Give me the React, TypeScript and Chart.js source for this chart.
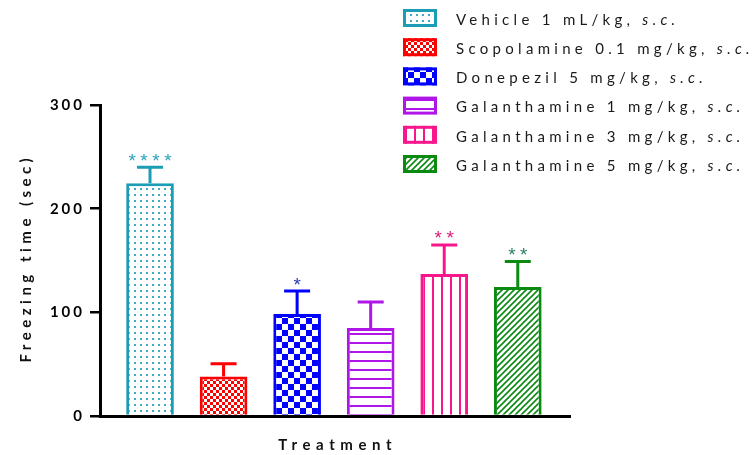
import React, { useEffect, useRef } from 'react';
import { Chart, registerables } from 'chart.js';

Chart.register(...registerables);

// ---------- data ----------
const treatments = [
  'Vehicle 1 mL/kg,',
  'Scopolamine 0.1 mg/kg,',
  'Donepezil 5 mg/kg,',
  'Galanthamine 1 mg/kg,',
  'Galanthamine 3 mg/kg,',
  'Galanthamine 5 mg/kg,',
];
const routeLabel = 's.c.';
const freezingMean = [224.5, 38, 98.5, 85, 137, 124.5];
const freezingSem = [15.5, 12.5, 22, 25, 28, 24.5];
const significance = ['****', '', '*', '', '**', '**'];
const yTickValues = [0, 100, 200, 300];
const yAxisTitle = 'Freezing time (sec)';
const xAxisTitle = 'Treatment';

// ---------- styles ----------
const barColors = ['#1b9db6', '#ff0000', '#0000ff', '#b016e8', '#f8168c', '#0b8a12'];
const starColors = ['#2aa3bb', '#000', '#2a3aa8', '#000', '#d81b7a', '#2e7d5e'];
const patternKinds = ['dots', 'fineChecker', 'checker', 'hlines', 'vlines', 'diag'];

function makePattern(kind: string, color: string): CanvasPattern | string {
  const c = document.createElement('canvas');
  const g = c.getContext('2d') as CanvasRenderingContext2D;
  const tile = (w: number, h: number) => {
    c.width = w;
    c.height = h;
    g.fillStyle = '#ffffff';
    g.fillRect(0, 0, w, h);
    g.fillStyle = color;
    g.strokeStyle = color;
  };
  switch (kind) {
    case 'dots':
      tile(6, 6);
      g.globalAlpha = 0.85;
      g.fillRect(2, 2, 2, 2);
      break;
    case 'fineChecker':
      tile(6, 6);
      g.fillRect(0, 0, 3, 3);
      g.fillRect(3, 3, 3, 3);
      break;
    case 'checker':
      tile(12, 12);
      g.fillRect(0, 0, 6, 6);
      g.fillRect(6, 6, 6, 6);
      break;
    case 'hlines':
      tile(4, 9);
      g.fillRect(0, 0, 4, 2);
      break;
    case 'vlines':
      tile(9, 4);
      g.fillRect(0, 0, 2, 4);
      break;
    case 'diag':
      tile(6, 6);
      g.lineWidth = 1.6;
      g.beginPath();
      g.moveTo(0, 6);
      g.lineTo(6, 0);
      g.moveTo(-1, 1);
      g.lineTo(1, -1);
      g.moveTo(5, 7);
      g.lineTo(7, 5);
      g.stroke();
      break;
  }
  return g.createPattern(c, 'repeat') || color;
}

const FONT = 'Lato, "Open Sans", sans-serif';
const STAR_FONT = '"Liberation Sans", Arial, sans-serif';

const decorPlugin = {
  id: 'decor',
  beforeLayout(chart: any) {
    chart.ctx.letterSpacing = '3px';
  },
  beforeDraw(chart: any) {
    chart.ctx.letterSpacing = '3px';
  },
  afterDatasetsDraw(chart: any) {
    const { ctx, scales } = chart;
    const xs = scales.x;
    const ys = scales.y;
    ctx.save();
    freezingMean.forEach((m, i) => {
      const cx = xs.getPixelForValue(i + 1);
      const yTop = ys.getPixelForValue(m);
      const yCap = ys.getPixelForValue(m + freezingSem[i]);
      ctx.strokeStyle = barColors[i];
      ctx.lineWidth = 3;
      ctx.beginPath();
      ctx.moveTo(cx, yTop);
      ctx.lineTo(cx, yCap);
      ctx.moveTo(cx - 13, yCap);
      ctx.lineTo(cx + 13, yCap);
      ctx.stroke();
      if (significance[i]) {
        ctx.font = `19px ${STAR_FONT}`;
        ctx.letterSpacing = '4.5px';
        ctx.fillStyle = starColors[i];
        ctx.textAlign = 'center';
        ctx.textBaseline = 'alphabetic';
        ctx.fillText(significance[i], cx + 2.25, yCap - 0.5);
      }
    });
    ctx.restore();
  },
  afterDraw(chart: any) {
    const { ctx, chartArea } = chart;
    ctx.save();
    ctx.fillStyle = '#111';
    // axis titles
    ctx.font = `bold 15px ${FONT}`;
    ctx.letterSpacing = '4.5px';
    ctx.textAlign = 'center';
    ctx.textBaseline = 'middle';
    ctx.save();
    ctx.translate(26, (chartArea.top + chartArea.bottom) / 2);
    ctx.rotate(-Math.PI / 2);
    ctx.fillText(yAxisTitle, 2.25, 0);
    ctx.restore();
    ctx.font = `bold 15px ${FONT}`;
    ctx.letterSpacing = '5.6px';
    ctx.fillText(xAxisTitle, (chartArea.left + chartArea.right) / 2 + 2.8, 445);

    // legend
    const patterns = chart.data.datasets[0].backgroundColor;
    const boxX = 403, boxW = 34, boxH = 18, firstY = 18, step = 29.2, textX = 456;
    treatments.forEach((t, i) => {
      const cy = firstY + i * step;
      ctx.fillStyle = patterns[i];
      ctx.fillRect(boxX, cy - boxH / 2, boxW, boxH);
      ctx.strokeStyle = barColors[i];
      ctx.lineWidth = 3;
      ctx.strokeRect(boxX + 1.5, cy - boxH / 2 + 1.5, boxW - 3, boxH - 3);
      ctx.fillStyle = '#1a1a1a';
      ctx.textAlign = 'left';
      ctx.textBaseline = 'middle';
      ctx.letterSpacing = '4.3px';
      ctx.font = `15px ${FONT}`;
      const main = t + ' ';
      ctx.fillText(main, textX, cy + 2);
      const w = ctx.measureText(main).width;
      ctx.font = `italic 15px ${FONT}`;
      ctx.fillText(routeLabel, textX + w, cy + 2);
    });
    ctx.restore();
  },
};

export default function App() {
  const ref = useRef<HTMLCanvasElement>(null);
  useEffect(() => {
    const canvas = ref.current as HTMLCanvasElement;
    const patterns = patternKinds.map((k, i) => makePattern(k, barColors[i]));
    const chart = new Chart(canvas, {
      type: 'bar',
      data: {
        labels: treatments,
        datasets: [
          {
            label: 'Freezing time (sec)',
            data: freezingMean.map((v, i) => ({ x: i + 1, y: v })) as any,
            backgroundColor: patterns as any,
            borderColor: barColors,
            borderWidth: 3,
            borderSkipped: 'bottom',
            categoryPercentage: 0.8,
            barPercentage: 0.81,
          },
        ],
      },
      options: {
        responsive: false,
        animation: false,
        devicePixelRatio: 1,
        layout: { padding: { left: 0, top: 105, right: 186, bottom: 0 } },
        plugins: {
          legend: { display: false },
          tooltip: { enabled: false },
          title: { display: false },
        },
        scales: {
          x: {
            type: 'linear',
            min: 0.32,
            max: 6.71,
            offset: false,
            afterBuildTicks: (s: any) => {
              s.ticks = treatments.map((_, i) => ({ value: i + 1 }));
            },
            afterFit: (s: any) => {
              s.height = 39;
            },
            ticks: { display: false },
            grid: { display: false },
            border: { display: true, color: '#000', width: 3, z: 1 },
            title: { display: false },
          },
          y: {
            min: 0,
            max: 300,
            afterBuildTicks: (s: any) => {
              s.ticks = yTickValues.map((v) => ({ value: v }));
            },
            afterFit: (s: any) => {
              s.width = 100;
            },
            ticks: {
              color: '#000',
              padding: 5,
              font: { family: FONT, size: 15, weight: 'bold' },
            },
            grid: {
              display: true,
              drawOnChartArea: false,
              drawTicks: true,
              tickLength: 10,
              color: '#000',
              lineWidth: 2.5,
            },
            border: { display: true, color: '#000', width: 3 },
            title: { display: false },
          },
        },
      } as any,
      plugins: [decorPlugin as any],
    });
    return () => chart.destroy();
  }, []);
  return (
    <div style={{ position: 'absolute', left: 0, top: 0, width: 756, height: 455 }}>
      <canvas ref={ref} width={756} height={455} style={{ display: 'block' }} />
    </div>
  );
}
